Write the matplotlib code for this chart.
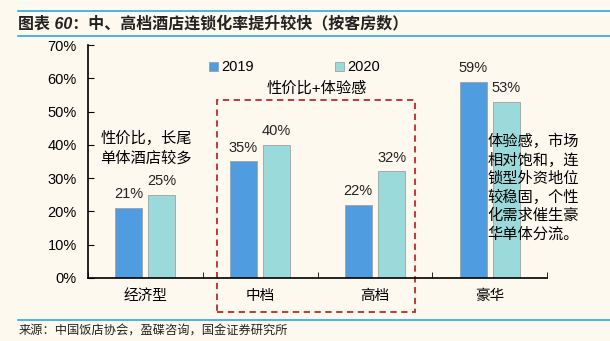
import matplotlib.pyplot as plt
import matplotlib.transforms as mtransforms
from matplotlib.patches import Rectangle
import numpy as np

plt.rcParams['font.family'] = ['Liberation Sans', 'Noto Sans CJK SC', 'DejaVu Sans']

categories = ["经济型", "中档", "高档", "豪华"]
years = ["2019", "2020"]
values_2019 = [21, 35, 22, 59]
values_2020 = [25, 40, 32, 53]
yticks = [0, 10, 20, 30, 40, 50, 60, 70]

bg = "#FDF9EF"
c2019 = "#4F9DE0"
c2020 = "#9BDADA"

fig = plt.figure(figsize=(6.1, 3.41), dpi=100, facecolor=bg)
ax = fig.add_axes([0.144, 0.185, 0.753, 0.683], facecolor=bg)

x = np.arange(len(categories))
w = 0.235
off = 0.145
b1 = ax.bar(x - off, values_2019, w, color=c2019, edgecolor="#A0A0A0", linewidth=0.6, label=years[0])
b2 = ax.bar(x + off, values_2020, w, color=c2020, edgecolor="#A0A0A0", linewidth=0.6, label=years[1])

for bars in (b1, b2):
    for r in bars:
        ax.text(r.get_x() + r.get_width() / 2, r.get_height() + 2, f"{r.get_height():.0f}%",
                ha="center", va="bottom", fontsize=10.5, color="#222222")

ax.set_xlim(-0.5, 3.5)
ax.set_ylim(0, 70)
ax.set_yticks(yticks)
ax.set_yticklabels([f"{v}%" for v in yticks], fontsize=10.5)
ax.set_xticks(x)
ax.set_xticklabels(categories, fontsize=10.5)
ax.set_xticks(np.arange(-0.5, 4, 1), minor=True)
ax.tick_params(axis="x", which="major", length=0, pad=8)
ax.tick_params(axis="x", which="minor", length=4, direction="in")
ax.tick_params(axis="y", length=4, direction="in", pad=8)
for s in ("top", "right"):
    ax.spines[s].set_visible(False)
for s in ("left", "bottom"):
    ax.spines[s].set_linewidth(1.2)

leg = ax.legend(ncol=2, loc="upper center", bbox_to_anchor=(0.45, 0.99), frameon=False,
                fontsize=10.5, handlelength=0.6, handleheight=0.6, handletextpad=0.2,
                columnspacing=5.6)

# dashed box around mid-range categories
trans = mtransforms.blended_transform_factory(ax.transData, ax.transAxes)
ax.add_patch(Rectangle((0.626, -0.146), 2.35 - 0.626, 0.764 + 0.146, transform=trans,
                       fill=False, edgecolor="#C0282D", linestyle=(0, (3.5, 2.5)),
                       linewidth=1.3, clip_on=False))
ax.text(1.49, 0.815, "性价比+体验感", transform=trans, ha="center", va="center", fontsize=11)

ax.text(-0.39, 39, "性价比，长尾\n单体酒店较多", ha="left", va="center", fontsize=11, linespacing=1.45)
ax.text(2.98, 43.5, "体验感，市场\n相对饱和，连\n锁型外资地位\n较稳固，个性\n化需求催生豪\n华单体分流。",
        ha="left", va="top", fontsize=11, linespacing=1.34)

# header and footer
fig.add_artist(plt.Line2D([0.03, 1.0], [0.968, 0.968], color="#29A8E8", linewidth=1.2))
fig.add_artist(plt.Line2D([0.03, 1.0], [0.895, 0.895], color="#29A8E8", linewidth=1.2))
fig.add_artist(plt.Line2D([0.03, 1.0], [0.062, 0.062], color="#29A8E8", linewidth=1.2))
fig.text(0.03, 0.932, "图表 60：中、高档酒店连锁化率提升较快（按客房数）", fontsize=11.5,
         fontweight="bold", fontstyle="italic", va="center", ha="left", color="#222222")
fig.text(0.03, 0.028, "来源：中国饭店协会，盈碟咨询，国金证券研究所", fontsize=8.8,
         va="center", ha="left", color="#222222")

fig.savefig("out.png", dpi=100, facecolor=bg)
